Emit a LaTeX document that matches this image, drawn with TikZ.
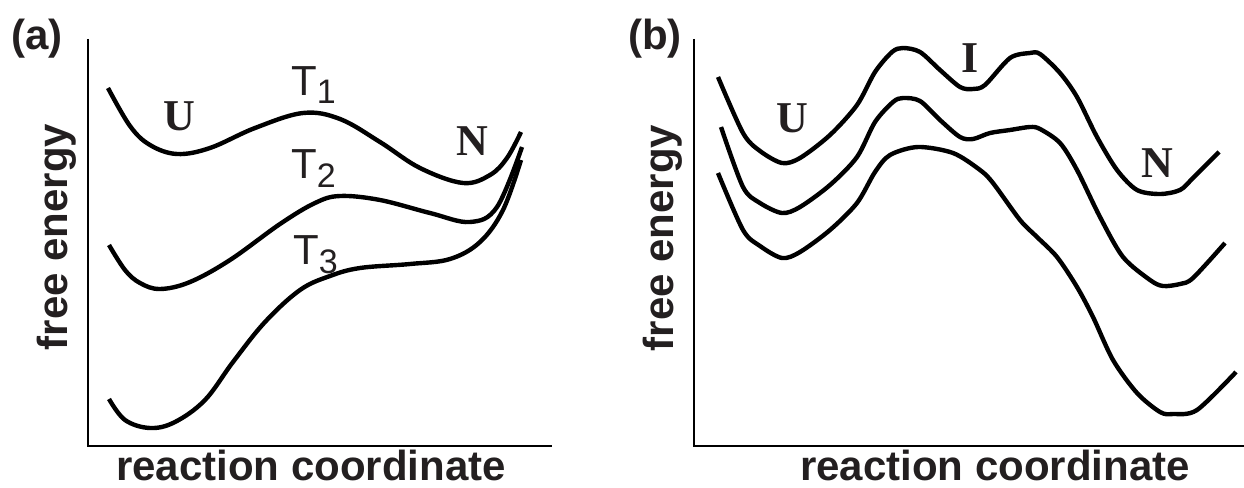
\documentclass[tikz,border=0pt]{standalone}
\usepackage{fontspec}
\setmainfont{Liberation Serif}
\setsansfont{Liberation Sans}
\definecolor{ink}{RGB}{35,31,32}
\begin{document}
\begin{tikzpicture}[x=1pt,y=-1pt,
  curve/.style={line width=4.4pt, line join=round},
  axis/.style={line width=2pt},
  panel/.style={font=\fontsize{42}{42}\selectfont\sffamily\bfseries, text=ink, inner sep=0pt},
  state/.style={font=\fontsize{44}{44}\selectfont\rmfamily\bfseries, text=ink, inner sep=0pt},
  temp/.style={font=\fontsize{42}{42}\selectfont\sffamily, text=ink, inner sep=0pt}]
\useasboundingbox (0,0) rectangle (1244,487);

% ---------- panel (a) ----------
\coordinate (aT) at (88,39);
\coordinate (aO) at (88,446);
\coordinate (aR) at (552,446);
\draw[axis] (aT) -- (aO) -- (aR);

\node[panel, anchor=base] (la) at (37,50) {(a)};
\node[panel, rotate=90, anchor=base] (fea) at (67,237) {free energy};
\node[panel, anchor=base, text depth=0pt] (rca) at (311,480) {reaction coordinate};

\draw[curve] plot[smooth, tension=0.6] coordinates {(108,88) (130,126) (150,145) (177,154) (210,148) (255,128) (303,113) (340,119) (380,142) (420,168) (463,183) (490,175) (507,158) (521,132)};
\draw[curve] plot[smooth, tension=0.6] coordinates {(109,245) (125,270) (140,283) (160,289) (190,282) (230,260) (280,224) (315,203) (340,196) (380,200) (430,213) (470,222) (497,207) (522,147)};
\draw[curve] plot[smooth, tension=0.6] coordinates {(109,399) (125,420) (150,428) (175,422) (205,400) (233,362) (265,322) (300,290) (330,276) (360,268) (410,264) (450,259) (480,242) (503,210) (521,160)};

\node[state, anchor=base] (Ua) at (179,130) {U};
\node[state, anchor=base] (Na) at (472,155) {N};
\node[temp, anchor=base west] (T1) at (291,95) {T\raisebox{-9pt}{\fontsize{34}{34}\selectfont 1}};
\node[temp, anchor=base west] (T2) at (291,178) {T\raisebox{-9pt}{\fontsize{34}{34}\selectfont 2}};
\node[temp, anchor=base west] (T3) at (293,264) {T\raisebox{-9pt}{\fontsize{34}{34}\selectfont 3}};

% ---------- panel (b) ----------
\coordinate (bT) at (694,39);
\coordinate (bO) at (694,446);
\coordinate (bR) at (1244,446);
\draw[axis] (bT) -- (bO) -- (bR);

\node[panel, anchor=base] (lb) at (655,50) {(b)};
\node[panel, rotate=90, anchor=base] (feb) at (673,238) {free energy};
\node[panel, anchor=base, text depth=0pt] (rcb) at (995,480) {reaction coordinate};

\draw[curve] plot[smooth, tension=0.5] coordinates {(718,77) (743,133) (760,151) (782,163) (800,158) (830,135) (857,105) (875,72) (892,52) (903,48) (920,52) (940,70) (960,87) (973,89) (985,85) (1010,58) (1030,53) (1040,54) (1060,73) (1077,97) (1097,137) (1117,170) (1137,190) (1160,194) (1180,190) (1193,178) (1219,152)};
\draw[curve] plot[smooth, tension=0.5] coordinates {(721,127) (743,187) (760,203) (782,213) (800,207) (830,185) (857,157) (875,122) (893,102) (903,98) (920,101) (940,120) (960,137) (973,139) (990,133) (1010,130) (1030,127) (1040,129) (1060,143) (1077,170) (1100,217) (1123,257) (1150,280) (1163,286) (1180,284) (1193,278) (1225,243)};
\draw[curve] plot[smooth, tension=0.5] coordinates {(718,173) (743,230) (760,246) (782,258) (800,252) (830,230) (857,203) (875,172) (890,155) (918,147) (953,153) (980,170) (993,183) (1020,220) (1037,237) (1057,257) (1077,287) (1093,317) (1113,360) (1137,393) (1160,412) (1173,414) (1197,410) (1236,372)};

\node[state, anchor=base] (Ub) at (792,132) {U};
\node[state, anchor=base] (Ib) at (970,72) {I};
\node[state, anchor=base] (Nb) at (1157,177) {N};
\end{tikzpicture}
\end{document}
